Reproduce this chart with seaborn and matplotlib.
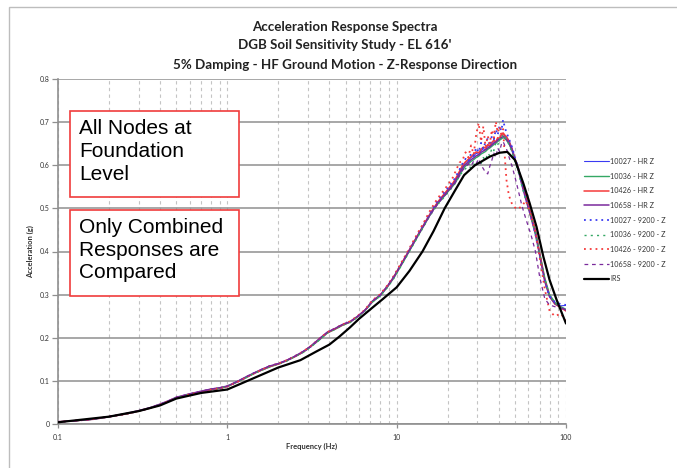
import matplotlib
matplotlib.use("Agg")
import matplotlib.pyplot as plt
import seaborn as sns
from matplotlib.patches import Rectangle
from matplotlib.ticker import FixedLocator, FuncFormatter, NullFormatter

# ---------------------------------------------------------------- data
freq = [0.1, 0.13, 0.16, 0.2, 0.25, 0.3, 0.35, 0.4, 0.45, 0.5,
        0.6, 0.7, 0.8, 0.9, 1.0, 1.15, 1.3, 1.45, 1.6, 1.8,
        2.0, 2.25, 2.5, 2.8, 3.1, 3.5, 3.9, 4.3, 4.8, 5.3,
        5.9, 6.5, 7.2, 8.0, 8.8, 9.6, 10.5, 11.5, 12.5, 13.5,
        14.5, 15.5, 16.5, 17.5, 18.5, 19.5, 20.5, 21.5, 22.5, 23.5,
        24.5, 25.5, 26.5, 27.5, 28.5, 29.5, 30.5, 31.5, 32.5, 33.5,
        34.5, 35.5, 36.5, 37.5, 38.5, 39.5, 40.5, 41.5, 42.5, 43.5,
        44.5, 46, 48, 50, 52, 55, 58, 62, 66, 70,
        75, 80, 86, 93, 100]

n10027_hr = [0.005, 0.008, 0.011, 0.017, 0.023, 0.030, 0.037, 0.045, 0.053, 0.061,
             0.069, 0.075, 0.080, 0.083, 0.087, 0.098, 0.109, 0.118, 0.125, 0.134,
             0.139, 0.147, 0.156, 0.167, 0.179, 0.196, 0.212, 0.220, 0.230, 0.236,
             0.249, 0.263, 0.284, 0.298, 0.318, 0.340, 0.366, 0.393, 0.418, 0.441,
             0.462, 0.482, 0.499, 0.514, 0.526, 0.537, 0.548, 0.557, 0.570, 0.584,
             0.598, 0.606, 0.611, 0.618, 0.621, 0.628, 0.625, 0.634, 0.638, 0.636,
             0.646, 0.643, 0.650, 0.655, 0.652, 0.662, 0.660, 0.670, 0.674, 0.668,
             0.665, 0.658, 0.640, 0.615, 0.598, 0.560, 0.528, 0.488, 0.448, 0.395,
             0.334, 0.297, 0.280, 0.274, 0.275]

n10036_hr = [0.005, 0.008, 0.011, 0.017, 0.023, 0.030, 0.037, 0.045, 0.053, 0.061,
             0.069, 0.075, 0.080, 0.083, 0.087, 0.098, 0.108, 0.118, 0.125, 0.133,
             0.139, 0.147, 0.156, 0.166, 0.179, 0.195, 0.211, 0.219, 0.229, 0.236,
             0.249, 0.263, 0.283, 0.297, 0.317, 0.338, 0.364, 0.391, 0.416, 0.439,
             0.460, 0.480, 0.497, 0.511, 0.522, 0.532, 0.543, 0.552, 0.563, 0.577,
             0.590, 0.598, 0.603, 0.609, 0.613, 0.618, 0.621, 0.626, 0.629, 0.632,
             0.637, 0.640, 0.644, 0.648, 0.651, 0.655, 0.658, 0.661, 0.664, 0.662,
             0.658, 0.650, 0.634, 0.612, 0.593, 0.556, 0.525, 0.486, 0.446, 0.396,
             0.338, 0.300, 0.282, 0.272, 0.266]

n10426_hr = [0.005, 0.008, 0.011, 0.017, 0.023, 0.030, 0.037, 0.045, 0.053, 0.061,
             0.069, 0.075, 0.080, 0.083, 0.087, 0.098, 0.109, 0.118, 0.126, 0.134,
             0.139, 0.148, 0.156, 0.167, 0.180, 0.197, 0.212, 0.220, 0.230, 0.237,
             0.250, 0.264, 0.285, 0.299, 0.319, 0.341, 0.367, 0.394, 0.419, 0.442,
             0.463, 0.483, 0.500, 0.515, 0.527, 0.538, 0.549, 0.559, 0.572, 0.586,
             0.600, 0.608, 0.614, 0.620, 0.626, 0.631, 0.629, 0.637, 0.642, 0.640,
             0.648, 0.645, 0.653, 0.658, 0.654, 0.664, 0.662, 0.671, 0.675, 0.670,
             0.666, 0.656, 0.638, 0.614, 0.596, 0.558, 0.527, 0.487, 0.447, 0.394,
             0.333, 0.296, 0.278, 0.270, 0.262]

n10658_hr = [0.005, 0.008, 0.011, 0.017, 0.024, 0.031, 0.038, 0.046, 0.054, 0.062,
             0.070, 0.076, 0.081, 0.084, 0.088, 0.099, 0.110, 0.119, 0.127, 0.135,
             0.140, 0.148, 0.157, 0.168, 0.180, 0.198, 0.213, 0.221, 0.231, 0.237,
             0.250, 0.264, 0.285, 0.299, 0.319, 0.340, 0.366, 0.393, 0.418, 0.441,
             0.462, 0.481, 0.498, 0.512, 0.524, 0.534, 0.545, 0.555, 0.567, 0.581,
             0.594, 0.602, 0.607, 0.613, 0.617, 0.622, 0.624, 0.630, 0.633, 0.636,
             0.640, 0.643, 0.647, 0.651, 0.654, 0.658, 0.661, 0.664, 0.667, 0.665,
             0.660, 0.652, 0.636, 0.612, 0.592, 0.553, 0.520, 0.480, 0.440, 0.390,
             0.330, 0.295, 0.279, 0.271, 0.264]

n10027_9200 = [0.005, 0.008, 0.011, 0.017, 0.023, 0.030, 0.037, 0.045, 0.053, 0.061,
               0.069, 0.075, 0.080, 0.083, 0.087, 0.098, 0.109, 0.119, 0.125, 0.135,
               0.139, 0.147, 0.157, 0.167, 0.179, 0.197, 0.212, 0.221, 0.230, 0.237,
               0.250, 0.264, 0.286, 0.299, 0.320, 0.342, 0.368, 0.395, 0.421, 0.444,
               0.466, 0.486, 0.503, 0.519, 0.531, 0.541, 0.553, 0.562, 0.576, 0.590,
               0.604, 0.615, 0.608, 0.628, 0.622, 0.641, 0.630, 0.652, 0.638, 0.655,
               0.662, 0.645, 0.668, 0.660, 0.683, 0.670, 0.692, 0.680, 0.705, 0.688,
               0.676, 0.662, 0.642, 0.617, 0.596, 0.556, 0.522, 0.482, 0.440, 0.388,
               0.330, 0.296, 0.283, 0.278, 0.276]

n10036_9200 = [0.005, 0.008, 0.011, 0.017, 0.023, 0.030, 0.037, 0.045, 0.053, 0.061,
               0.069, 0.075, 0.080, 0.083, 0.087, 0.098, 0.108, 0.118, 0.125, 0.133,
               0.139, 0.146, 0.156, 0.166, 0.178, 0.195, 0.211, 0.219, 0.229, 0.235,
               0.248, 0.262, 0.283, 0.297, 0.316, 0.337, 0.363, 0.390, 0.415, 0.438,
               0.459, 0.479, 0.495, 0.509, 0.520, 0.530, 0.541, 0.550, 0.562, 0.575,
               0.585, 0.592, 0.598, 0.594, 0.603, 0.598, 0.610, 0.604, 0.618, 0.612,
               0.628, 0.622, 0.640, 0.634, 0.652, 0.646, 0.662, 0.658, 0.672, 0.666,
               0.660, 0.648, 0.630, 0.608, 0.588, 0.550, 0.518, 0.480, 0.442, 0.392,
               0.336, 0.298, 0.281, 0.270, 0.265]

n10426_9200 = [0.005, 0.008, 0.011, 0.017, 0.023, 0.030, 0.037, 0.045, 0.053, 0.061,
               0.069, 0.075, 0.080, 0.083, 0.087, 0.098, 0.109, 0.118, 0.126, 0.135,
               0.140, 0.148, 0.157, 0.168, 0.180, 0.198, 0.213, 0.221, 0.231, 0.238,
               0.251, 0.265, 0.287, 0.301, 0.321, 0.343, 0.370, 0.397, 0.423, 0.447,
               0.468, 0.490, 0.508, 0.524, 0.536, 0.548, 0.560, 0.572, 0.590, 0.606,
               0.612, 0.630, 0.618, 0.646, 0.625, 0.672, 0.698, 0.655, 0.690, 0.642,
               0.668, 0.650, 0.682, 0.664, 0.701, 0.676, 0.690, 0.672, 0.684, 0.620,
               0.566, 0.530, 0.510, 0.502, 0.498, 0.506, 0.518, 0.484, 0.445, 0.385,
               0.312, 0.262, 0.250, 0.256, 0.240]

n10658_9200 = [0.005, 0.008, 0.011, 0.017, 0.024, 0.031, 0.038, 0.046, 0.054, 0.062,
               0.070, 0.076, 0.081, 0.084, 0.088, 0.099, 0.110, 0.119, 0.127, 0.136,
               0.140, 0.148, 0.157, 0.168, 0.180, 0.198, 0.213, 0.221, 0.231, 0.237,
               0.250, 0.264, 0.285, 0.299, 0.319, 0.340, 0.366, 0.393, 0.418, 0.441,
               0.461, 0.480, 0.496, 0.510, 0.522, 0.533, 0.543, 0.552, 0.563, 0.575,
               0.588, 0.596, 0.603, 0.598, 0.610, 0.604, 0.615, 0.600, 0.592, 0.583,
               0.580, 0.598, 0.612, 0.628, 0.618, 0.640, 0.632, 0.648, 0.655, 0.646,
               0.638, 0.620, 0.598, 0.572, 0.545, 0.505, 0.475, 0.440, 0.400, 0.340,
               0.290, 0.276, 0.272, 0.268, 0.262]

irs_freq = [0.1, 0.2, 0.3, 0.4, 0.5, 0.7, 1.0, 1.35, 2.0, 2.7,
            3.35, 4.0, 4.6, 5.3, 6.0, 7.2, 8.3, 10.0, 11.9, 14.2,
            16.5, 19.2, 22.0, 25.0, 29.0, 35.5, 40.5, 45.0, 50.0, 56.0,
            61.0, 67.0, 73.5, 80.0, 88.0, 100.0]
irs_acc = [0.004, 0.017, 0.030, 0.043, 0.059, 0.072, 0.080, 0.102, 0.131, 0.148,
           0.168, 0.184, 0.203, 0.224, 0.244, 0.270, 0.290, 0.317, 0.355, 0.400,
           0.447, 0.500, 0.540, 0.577, 0.600, 0.620, 0.629, 0.631, 0.612, 0.558,
           0.512, 0.457, 0.388, 0.334, 0.288, 0.233]

series_labels = ["10027 - HR Z", "10036 - HR Z", "10426 - HR Z", "10658 - HR Z",
                 "10027 - 9200 - Z", "10036 - 9200 - Z", "10426 - 9200 - Z",
                 "10658 - 9200 - Z"]
series_values = [n10027_hr, n10036_hr, n10426_hr, n10658_hr,
                 n10027_9200, n10036_9200, n10426_9200, n10658_9200]
x_ticks = [0.1, 1, 10, 100]
x_tick_labels = ["0.1", "1", "10", "100"]
y_ticks = [0, 0.1, 0.2, 0.3, 0.4, 0.5, 0.6, 0.7, 0.8]
y_tick_labels = ["0", "0.1", "0.2", "0.3", "0.4", "0.5", "0.6", "0.7", "0.8"]

# ---------------------------------------------------------------- styles
BLUE, GREEN, RED, PURPLE = "#3a3af2", "#34a864", "#f53a3a", "#7a2a9c"
styles = [
    dict(color=BLUE, lw=0.8, ls="-"),
    dict(color=GREEN, lw=1.0, ls="-"),
    dict(color=RED, lw=1.1, ls="-"),
    dict(color=PURPLE, lw=1.1, ls="-"),
    dict(color=BLUE, lw=1.3, ls=(0, (1, 2.2))),
    dict(color=GREEN, lw=1.0, ls=(0, (1.5, 3))),
    dict(color=RED, lw=1.3, ls=(0, (1, 2.2))),
    dict(color=PURPLE, lw=0.9, ls=(0, (3, 3))),
]

sns.set_theme(style="white")
plt.rcParams["font.family"] = ["Lato", "DejaVu Sans"]

W, H = 677, 468
fig = plt.figure(figsize=(W / 100, H / 100), dpi=100)
fig.patch.set_facecolor("white")
ax = fig.add_axes([58 / W, 44 / H, 508 / W, 345 / H])

for lab, vals, st in zip(series_labels, series_values, styles):
    sns.lineplot(x=freq, y=vals, ax=ax, color=st["color"], linewidth=st["lw"],
                 linestyle=st["ls"], label=lab, estimator=None, sort=False,
                 zorder=3)
sns.lineplot(x=irs_freq, y=irs_acc, ax=ax, color="black", linewidth=1.6,
             label="IRS", estimator=None, sort=False, zorder=4)

ax.set_xscale("log")
ax.set_xlim(0.1, 100)
ax.set_ylim(0, 0.8)

# grid: solid horizontal majors, dashed vertical lines at every decade step
ax.xaxis.set_major_locator(FixedLocator(x_ticks))
ax.xaxis.set_major_formatter(FuncFormatter(
    lambda v, _: x_tick_labels[x_ticks.index(v)] if v in x_ticks else ""))
ax.xaxis.set_minor_locator(FixedLocator(
    [m * d for d in (0.1, 1, 10) for m in range(2, 10)]))
ax.xaxis.set_minor_formatter(NullFormatter())
ax.yaxis.set_major_locator(FixedLocator(y_ticks))
ax.yaxis.set_major_formatter(FuncFormatter(
    lambda v, _: y_tick_labels[int(round(v * 10))]))

ax.grid(axis="y", which="major", color="#8f8f8f", lw=1.1, zorder=0)
ax.grid(axis="x", which="both", color="#c4c4c4", lw=0.8,
        linestyle=(0, (3, 3)), zorder=0)
ax.set_axisbelow(True)

for side in ("top", "right"):
    ax.spines[side].set_visible(False)
for side in ("left", "bottom"):
    ax.spines[side].set_color("#8f8f8f")
    ax.spines[side].set_linewidth(1.2)

ax.tick_params(axis="y", which="major", direction="out", length=4, width=0.9,
               color="#8f8f8f", labelsize=5, labelcolor="#333333", pad=2,
               left=True)
ax.tick_params(axis="x", which="major", direction="out", length=3, width=0.9,
               color="#8f8f8f", labelsize=5, labelcolor="#333333", pad=4,
               bottom=True)
ax.tick_params(axis="x", which="minor", length=0)

ax.set_xlabel("Frequency (Hz)", fontsize=5.5, fontweight="bold",
              color="#333333", labelpad=1.5)
ax.set_ylabel("Acceleration (g)", fontsize=5.5, fontweight="bold",
              color="#333333", labelpad=4)

# legend to the right of the plot area
handles, labels = ax.get_legend_handles_labels()
leg = ax.legend(handles, labels, loc="upper left",
                bbox_to_anchor=(584 / W, 1 - 158 / H),
                bbox_transform=fig.transFigure, frameon=False,
                fontsize=5.2, handlelength=3.5, handletextpad=0.1,
                labelspacing=1.06, borderpad=0, borderaxespad=0)
for t in leg.get_texts():
    t.set_color("#333333")

# title
title_lines = ["Acceleration Response Spectra",
               "DGB Soil Sensitivity Study - EL 616'",
               "5% Damping - HF Ground Motion - Z-Response Direction"]
for txt, yp in zip(title_lines, (27, 45, 65)):
    fig.text(345 / W, 1 - yp / H, txt, ha="center", va="center",
             fontsize=9.6, fontweight="bold", color="#222222")

# annotation boxes
box_font = ["Liberation Sans", "DejaVu Sans"]
for (y_top, y_bot, txt) in [(111, 197, "All Nodes at\nFoundation\nLevel"),
                            (210, 296, "Only Combined\nResponses are\nCompared")]:
    fig.add_artist(Rectangle((70 / W, 1 - y_bot / H), 169 / W,
                             (y_bot - y_top) / H, transform=fig.transFigure,
                             facecolor="white", edgecolor="#f03c3c", lw=1.2,
                             zorder=5))
    fig.text(79 / W, 1 - (y_top + 8) / H, txt, ha="left", va="top",
             fontsize=15, family=box_font, color="black", linespacing=1.25,
             zorder=6)

# outer chart frame
fig.add_artist(Rectangle((9 / W, -0.1), 1.2, 1.1 - 7 / H,
                         transform=fig.transFigure, fill=False,
                         edgecolor="#bdbdbd", lw=1.0))

fig.savefig("out.png", dpi=100)
